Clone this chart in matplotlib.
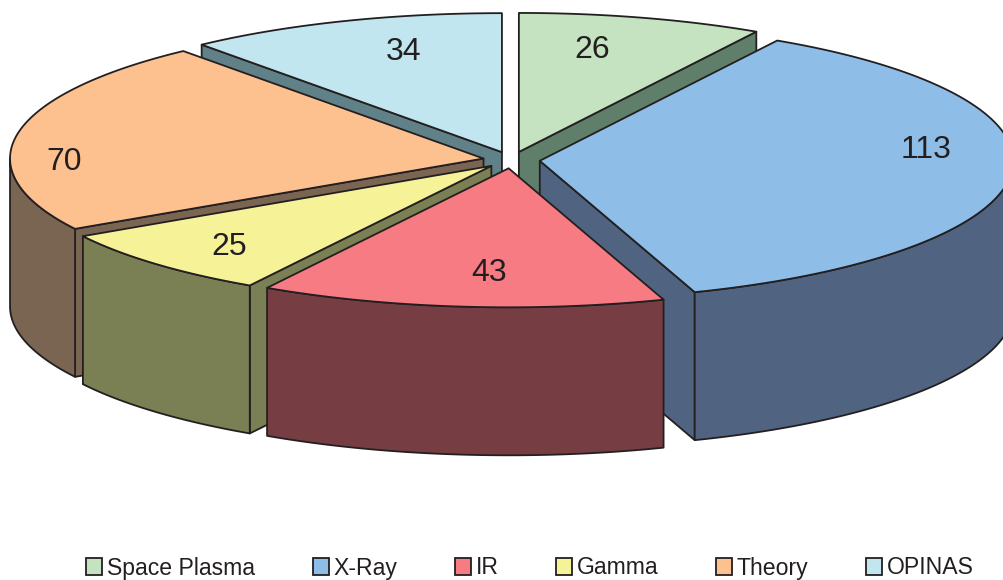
import numpy as np
import matplotlib
matplotlib.use('Agg')
import matplotlib.pyplot as plt
from matplotlib.patches import Patch, Polygon

labels = ['Space Plasma', 'X-Ray', 'IR', 'Gamma', 'Theory', 'OPINAS']
values = [26, 113, 43, 25, 70, 34]
top_colors = ['#C5E3C0', '#8EBEE8', '#F67B82', '#F6F298', '#FDC18F', '#C2E6EF']
side_colors = ['#5F7F6A', '#506482', '#763E42', '#7A7F54', '#7A6452', '#5F8187']

# pie geometry, in image pixels
CX, CY = 511.5, 160
RX, RY = 473.5, 139
DEPTH = 148
EXPLODE = 0.06
EDGE = '#231F20'
LW = 1.3

# painter's order, back to front
draw_order = [5, 0, 4, 1, 3, 2]
# label nudge from the point at 70% radius on each slice's middle angle
label_nudge = [(-13, 8), (56, 20), (14, -8), (-27, -12), (-93, -21), (13, 9)]

plt.rcParams['font.family'] = ['Liberation Sans', 'DejaVu Sans']


def project(tip, theta, r=1.0):
    return tip[0] + r * RX * np.sin(theta), tip[1] - r * RY * np.cos(theta)


def draw_slice(ax, a0, a1, top, side):
    mid = (a0 + a1) / 2
    tip = project((CX, CY), mid, EXPLODE)

    # radial walls, only those turned towards the viewer
    walls = []
    if np.sin(a0) < 0:
        walls.append(a0)
    if np.sin(a1) > 0:
        walls.append(a1)
    for a in walls:
        x, y = project(tip, a)
        wall = [tip, (x, y), (x, y + DEPTH), (tip[0], tip[1] + DEPTH)]
        ax.add_patch(Polygon(wall, closed=True, fc=side, ec=EDGE, lw=LW, joinstyle='round'))

    # outer wall, only the part that faces the viewer
    lo, hi = max(a0, np.pi / 2), min(a1, 3 * np.pi / 2)
    if hi > lo:
        t = np.linspace(lo, hi, 200)
        x, y = project(tip, t)
        pts = np.r_[np.c_[x, y], np.c_[x, y + DEPTH][::-1]]
        ax.add_patch(Polygon(pts, closed=True, fc=side, ec=EDGE, lw=LW, joinstyle='round'))

    # top face
    t = np.linspace(a0, a1, 200)
    x, y = project(tip, t)
    pts = np.r_[[tip], np.c_[x, y]]
    ax.add_patch(Polygon(pts, closed=True, fc=top, ec=EDGE, lw=LW, joinstyle='round'))
    return tip, mid


fig = plt.figure(figsize=(10.04, 5.8), dpi=100)
ax = fig.add_axes([0, 0, 1, 1])
ax.set_xlim(0, 1004)
ax.set_ylim(580, 0)
ax.axis('off')

edges = np.r_[0, np.cumsum(values)] / sum(values) * 2 * np.pi
for i in draw_order:
    tip, mid = draw_slice(ax, edges[i], edges[i + 1], top_colors[i], side_colors[i])
    ax.annotate(str(values[i]), xy=project(tip, mid, 0.7), xytext=label_nudge[i],
                textcoords='offset pixels', ha='center', va='center',
                fontsize=23, color=EDGE)

handles = [Patch(fc=c, ec=EDGE, lw=1.3) for c in top_colors]
ax.legend(handles, labels, ncol=6, frameon=False, fontsize=16.6,
          loc='center', bbox_to_anchor=(530, 568), bbox_transform=ax.transData,
          handlelength=0.7, handleheight=0.7, handletextpad=0.2, columnspacing=2.5,
          labelcolor=EDGE, borderpad=0, borderaxespad=0)

plt.savefig('out.png', dpi=100)
plt.close()
